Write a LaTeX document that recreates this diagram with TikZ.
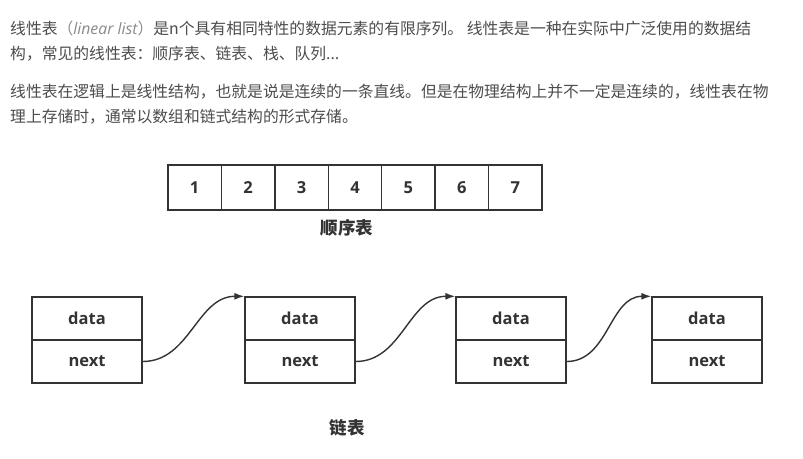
\documentclass[tikz,border=0pt]{standalone}
\usepackage{fontspec}
\setmainfont{Open Sans}
\newfontfamily\cjk{Noto Sans CJK SC}
\newfontfamily\latin{Open Sans}
\usetikzlibrary{arrows.meta}
\definecolor{txt}{HTML}{4D4D4D}
\definecolor{ital}{HTML}{8A8A8A}
\definecolor{ln}{HTML}{333333}
\tikzset{
  para/.style={anchor=base west, inner sep=0pt, text=txt, font=\cjk\fontsize{15.8}{18}\selectfont},
  cell/.style={draw=ln, line width=1.4pt, minimum width=53.4pt, minimum height=45pt, inner sep=0pt, text=ln, font=\latin\bfseries\fontsize{16.5}{18}\selectfont},
  half/.style={draw=ln, line width=1.4pt, minimum width=110pt, minimum height=43pt, inner sep=0pt, text=ln, font=\latin\bfseries\fontsize{16.5}{18}\selectfont},
  captext/.style={inner sep=0pt, text=ln, font=\cjk\bfseries\fontsize{17.5}{20}\selectfont},
  link/.style={draw=ln, line width=1.4pt, -{Latex[length=10pt,width=7pt]}, out=0, in=180}
}
\begin{document}
\begin{tikzpicture}[x=1pt,y=-1pt]
\useasboundingbox (0,0) rectangle (803,458);
\fill[white] (0,0) rectangle (803,458);
% paragraphs
\node[para] (p1) at (10,34) {线性表{\color{ital}（{\latin\itshape linear list}）}是n个具有相同特性的数据元素的有限序列。 线性表是一种在实际中广泛使用的数据结};
\node[para] (p2) at (10,59) {构，常见的线性表：顺序表、链表、栈、队列...};
\node[para] (p3) at (10,97) {线性表在逻辑上是线性结构，也就是说是连续的一条直线。但是在物理结构上并不一定是连续的，线性表在物};
\node[para] (p4) at (10,122) {理上存储时，通常以数组和链式结构的形式存储。};
% array
\foreach \i in {1,...,7}{
  \node[cell] (c\i) at ({168+26.7+(\i-1)*53.43},187.5) {\i};
}
\node[captext] (seq) at (347,228) {顺序表};
% linked list
\foreach \i/\x in {1/87,2/300,3/511,4/707}{
  \node[half] (d\i) at (\x,318.5) {data};
  \node[half] (n\i) at (\x,361.5) {next};
}
\draw[link] (n1.east) to (d2.north west);
\draw[link] (n2.east) to (d3.north west);
\draw[link] (n3.east) to (d4.north west);
\node[captext] (ll) at (347,428) {链表};
\end{tikzpicture}
\end{document}
